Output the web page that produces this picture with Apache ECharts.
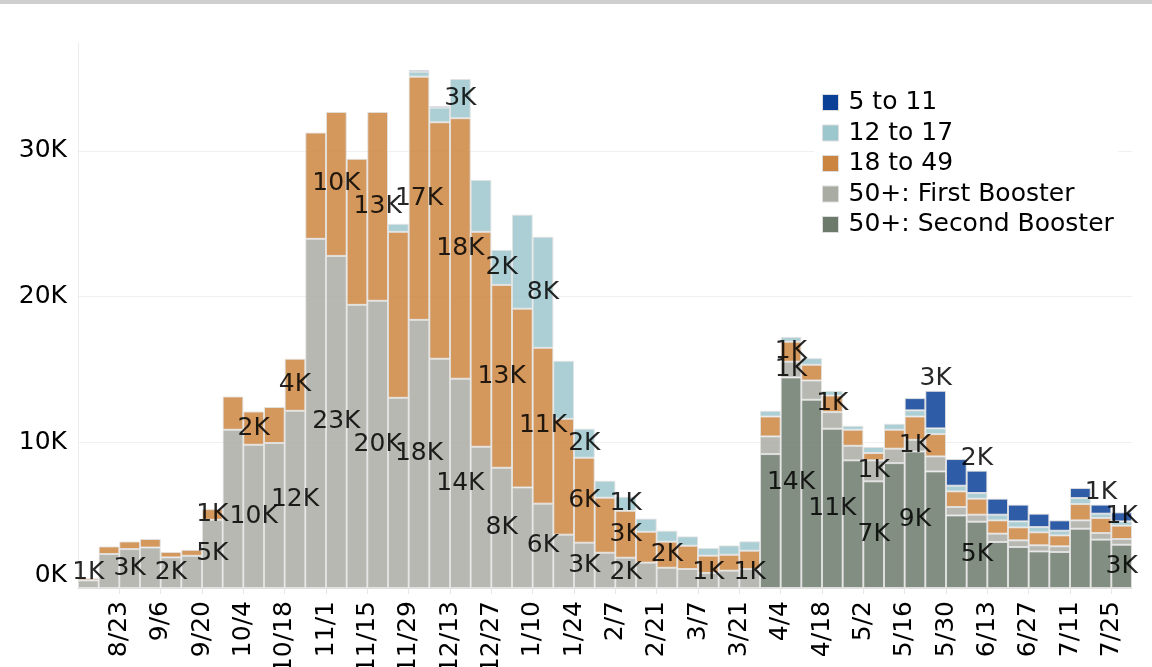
<!DOCTYPE html>
<html>
<head>
<meta charset="utf-8">
<script src="https://cdn.jsdelivr.net/npm/echarts@6/dist/echarts.min.js"></script>
<style>
html,body{margin:0;padding:0;background:#fff;}
#chart{width:1152px;height:667px;}
</style>
</head>
<body>
<div id="chart"></div>
<script>
// Week start dates (one bar per week)
const weeks = ['8/9','8/16','8/23','8/30','9/6','9/13','9/20','9/27','10/4','10/11','10/18','10/25','11/1','11/8','11/15','11/22','11/29','12/6','12/13','12/20','12/27','1/3','1/10','1/17','1/24','1/31','2/7','2/14','2/21','2/28','3/7','3/14','3/21','3/28','4/4','4/11','4/18','4/25','5/2','5/9','5/16','5/23','5/30','6/6','6/13','6/20','6/27','7/4','7/11','7/18','7/25'];
// Week boundaries for the tick labels
const tickDates = ['8/9','8/16','8/23','8/30','9/6','9/13','9/20','9/27','10/4','10/11','10/18','10/25','11/1','11/8','11/15','11/22','11/29','12/6','12/13','12/20','12/27','1/3','1/10','1/17','1/24','1/31','2/7','2/14','2/21','2/28','3/7','3/14','3/21','3/28','4/4','4/11','4/18','4/25','5/2','5/9','5/16','5/23','5/30','6/6','6/13','6/20','6/27','7/4','7/11','7/18','7/25','8/1'];

// Values in thousands
const second = [0,0,0,0,0,0,0,0,0,0,0,0,0,0,0,0,0,0,0,0,0,0,0,0,0,0,0,0,0,0,0,0,0,
  9.19,14.45,12.92,10.93,8.76,7.32,8.57,9.37,8.0,4.98,4.55,3.16,2.81,2.51,2.47,4.07,3.32,2.97];
const first = [0.52,2.33,2.67,2.78,2.1,2.21,4.68,10.86,9.83,9.95,12.16,23.96,22.79,19.43,19.71,13.05,18.4,15.73,14.36,9.69,8.25,6.9,5.79,3.66,3.11,2.42,2.08,1.74,1.39,1.3,1.03,1.19,1.3,
  1.21,1.08,1.32,1.14,1.0,1.44,0.99,0.8,1.03,0.58,0.48,0.57,0.46,0.42,0.39,0.57,0.45,0.39];
const age18to49 = [0.14,0.52,0.52,0.58,0.37,0.41,0.73,2.28,2.28,2.47,3.57,7.29,9.88,10.02,12.96,11.39,16.69,16.23,17.88,14.75,12.55,12.27,10.69,7.95,5.83,3.78,3.22,2.12,1.79,1.6,1.19,1.09,1.26,
  1.37,1.37,1.08,1.14,1.1,0.5,1.3,1.6,1.53,1.07,1.1,0.91,0.89,0.89,0.75,1.12,1.03,0.92];
const age12to17 = [0,0,0,0,0,0,0,0,0,0,0,0,0,0,0,0.55,0.34,1.0,2.69,3.56,2.4,6.45,7.62,3.98,1.99,1.16,0.96,0.9,0.75,0.64,0.52,0.64,0.64,
  0.39,0.32,0.45,0.32,0.27,0.41,0.41,0.42,0.39,0.39,0.39,0.39,0.41,0.36,0.32,0.41,0.3,0.29];
const age5to11 = [0,0,0,0,0,0,0,0,0,0,0,0,0,0,0,0,0.12,0.1,0,0,0,0,0,0,0,0,0,0,0,0,0,0,0,0,0,0,0,0,0,0,
  0.84,2.58,1.83,1.53,1.1,1.15,0.92,0.71,0.69,0.62,0.62];

const yTicks = [0,10,20,30];

// Which bars carry a value label, per series
const labelsSecond = [34,36,38,40,43,50];
const labelsFirst = [0,2,4,6,8,10,12,14,16,18,20,22,24,26,30,32,34,38,40];
const labels18 = [6,8,10,12,14,16,18,20,22,24,26,28,34,36];
const labels12 = [18,20,22,24,26];
const labels5 = [41,43,49,50];
const labels5Above = [41,43,49];

const FONT = 'DejaVu Sans';
const FS = 25;
const names = ['5 to 11','12 to 17','18 to 49','50+: First Booster','50+: Second Booster'];
const colors = {'5 to 11':'#0b4097','12 to 17':'#9cc7cc','18 to 49':'#cc8540','50+: First Booster':'#a9aca3','50+: Second Booster':'#6c7a6c'};

function buildData(values, labelIdx, opts) {
  return values.map((v, i) => {
    const item = { value: v ? v : null };
    if (labelIdx.includes(i)) {
      const lab = { show: true };
      if (opts && opts.above && opts.above.includes(i)) { lab.position = 'top'; lab.distance = 0; }
      if (opts && opts.bottomFit && !opts.bottomFit.below[i] && v < 1.6) { lab.position = 'insideBottom'; lab.distance = 3; }
      item.label = lab;
    }
    return item;
  });
}

function mkSeries(name, data) {
  return {
    name: name, type: 'bar', stack: 'all', xAxisIndex: 0, yAxisIndex: 0,
    barCategoryGap: '0%',
    itemStyle: { color: colors[name], opacity: 0.85, borderColor: '#e2e2e2', borderWidth: 1 },
    label: { show: false, position: 'inside', fontFamily: FONT, fontSize: FS, color: '#000',
      formatter: p => Math.round(p.value) + 'K' },
    emphasis: { disabled: true },
    data: data
  };
}

const chart = echarts.init(document.getElementById('chart'), null, { renderer: 'canvas' });
chart.setOption({
  animation: false,
  backgroundColor: '#fff',
  graphic: [{ type: 'rect', left: 0, top: 0, shape: { width: 1152, height: 4 }, style: { fill: '#cfcfcf' }, silent: true }],
  grid: { left: 78, right: 20, top: 43, bottom: 79, containLabel: false, outerBoundsMode: 'none' },
  legend: {
    orient: 'vertical', left: 814, top: 88,
    padding: [2, 4, 2, 8], backgroundColor: '#fff',
    itemWidth: 16, itemHeight: 16, itemGap: 5.5,
    selectedMode: false, icon: 'rect',
    textStyle: { fontFamily: FONT, fontSize: FS, color: '#000', lineHeight: 25, padding: [0, 0, 0, 5] },
    data: names.map(n => ({ name: n, itemStyle: { color: colors[n], opacity: 1, borderColor: '#dddddd', borderWidth: 1 } }))
  },
  xAxis: [
    { type: 'category', data: weeks, position: 'bottom', boundaryGap: true,
      axisLine: { show: false }, axisTick: { show: false }, axisLabel: { show: false }, splitLine: { show: false } },
    { type: 'category', data: tickDates, position: 'bottom', boundaryGap: false,
      axisLine: { show: true, onZero: false, lineStyle: { color: '#e0e0e0', width: 1 } },
      axisTick: { show: true, length: 6, lineStyle: { color: '#e6e6e6' }, interval: (i) => i % 2 === 0 && i >= 2 && i <= 50 },
      axisLabel: { show: true, rotate: 90, margin: 13, fontFamily: FONT, fontSize: FS, color: '#000',
        interval: (i) => i % 2 === 0 && i >= 2 && i <= 50 },
      splitLine: { show: false } }
  ],
  yAxis: {
    type: 'value', min: 0, max: 37.4, interval: 10,
    axisLine: { show: true, lineStyle: { color: '#ececec' } },
    axisTick: { show: false },
    axisLabel: { fontFamily: FONT, fontSize: FS, color: '#000', margin: 11,
      formatter: v => yTicks.includes(v) ? v + 'K' : '',
      showMaxLabel: false, verticalAlignMinLabel: 'bottom' },
    splitLine: { show: true, showMinLine: false, showMaxLine: false, lineStyle: { color: '#f0f0f0', width: 1 } }
  },
  series: [
    mkSeries('50+: Second Booster', buildData(second, labelsSecond)),
    mkSeries('50+: First Booster', buildData(first, labelsFirst, { bottomFit: { below: second } })),
    mkSeries('18 to 49', buildData(age18to49, labels18)),
    mkSeries('12 to 17', buildData(age12to17, labels12)),
    mkSeries('5 to 11', buildData(age5to11, labels5, { above: labels5Above }))
  ]
});
</script>
</body>
</html>
